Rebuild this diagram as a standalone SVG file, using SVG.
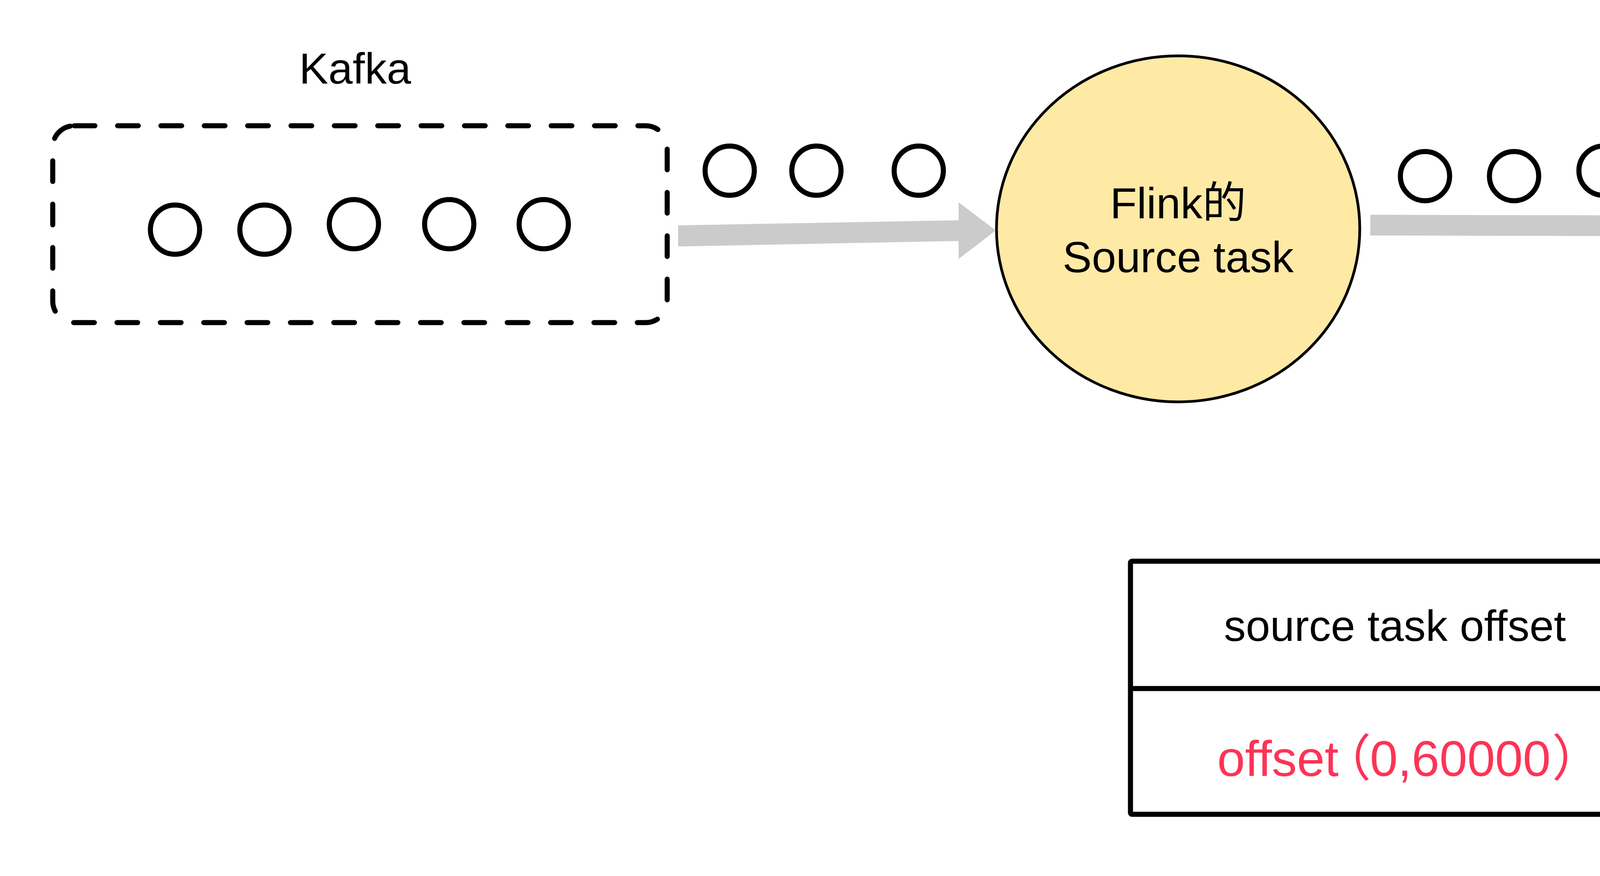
<svg xmlns="http://www.w3.org/2000/svg" width="5875" height="2243" viewBox="0 0 5875 2243">
<style>
.t{font-family:"Liberation Sans","Noto Sans CJK SC",sans-serif;font-size:112px;fill:#000}
.c{font-family:"Noto Sans CJK SC","Liberation Sans",sans-serif}
.dot{fill:#fff;stroke:#000;stroke-width:13}
.task{fill:#FEE9A5;stroke:#000;stroke-width:7}
.gray{fill:#CBCBCB}
.grid{fill:none;stroke:#000;stroke-width:13;stroke-linejoin:round}
</style>
<rect width="5875" height="2243" fill="#fff"/>
<g id="kafka">
<text class="t" x="909" y="214" text-anchor="middle">Kafka</text>
<rect x="135" y="322" width="1573" height="504" rx="55" fill="none" stroke="#000" stroke-width="13" stroke-dasharray="53 58" stroke-linecap="round"/>
<circle class="dot" cx="448" cy="588" r="63"/>
<circle class="dot" cx="677" cy="588" r="63"/>
<circle class="dot" cx="906" cy="574" r="63"/>
<circle class="dot" cx="1150" cy="574" r="63"/>
<circle class="dot" cx="1392" cy="574" r="63"/>
</g>
<g id="records1">
<circle class="dot" cx="1868" cy="437" r="63"/>
<circle class="dot" cx="2090" cy="437" r="63"/>
<circle class="dot" cx="2352" cy="437" r="63"/>
</g>
<g id="source-task">
<ellipse class="task" cx="3016" cy="586" rx="465" ry="443"/>
<text class="t" x="3016" y="559" text-anchor="middle">Flink的</text>
<text class="t" x="3016" y="697" text-anchor="middle">Source task</text>
</g>
<g id="records2">
<circle class="dot" cx="3648" cy="451" r="63"/>
<circle class="dot" cx="3876" cy="451" r="63"/>
<circle class="dot" cx="4105" cy="437" r="63"/>
<circle class="dot" cx="4348" cy="437" r="63"/>
<circle class="dot" cx="4591" cy="437" r="63"/>
</g>
<g id="pv-task">
<ellipse class="task" cx="5292" cy="586" rx="465" ry="443"/>
<text class="t" x="5291" y="544" text-anchor="middle">Flink 计算pv</text>
<text class="t" x="5293" y="697" text-anchor="middle">的 task</text>
</g>
<g id="barrier">
<rect x="4896" y="632" width="90" height="393" rx="5" fill="#fff" stroke="#FF0033" stroke-width="13"/>
<text class="t" x="4943" y="1225" text-anchor="middle" style="fill:#FB3A4E">CheckPoint barrier 100</text>
</g>
<g id="state-table">
<rect class="grid" x="2894" y="1437" width="2727" height="648" rx="4"/>
<line class="grid" x1="2894" y1="1763" x2="5621" y2="1763"/>
<line class="grid" x1="4257" y1="1437" x2="4257" y2="2085"/>
<text class="t" x="3571" y="1641" text-anchor="middle">source task offset</text>
<text class="t" x="4942" y="1641" text-anchor="middle">pv task</text>
<text class="t" style="fill:#FC3456;font-size:128px"><tspan x="3116" y="1987">offset</tspan><tspan class="c" x="3382" y="1987">（</tspan><tspan x="3507" y="1987">0,60000</tspan><tspan class="c" x="3973" y="1987">）</tspan></text>
<text class="t" style="fill:#FF1C1C;font-size:114px"><tspan x="4565" y="1893">pv</tspan><tspan class="c" x="4668" y="1893">：</tspan><tspan class="c" x="4724" y="1893">（</tspan><tspan x="4833" y="1893">app1,50000</tspan><tspan class="c" x="5427" y="1893">）</tspan></text>
<text class="t" style="fill:#FF1C1C;font-size:114px"><tspan class="c" x="4605" y="2046">（</tspan><tspan x="4718" y="2046">app2,10000</tspan><tspan class="c" x="5302" y="2046">）</tspan></text>
</g>
<g id="connectors">
<polygon class="gray" points="1736,577 2454,564 2454,518 2549,590 2454,663 2454,617 1736,631"/>
<polygon class="gray" points="3508,550 4731,553 4731,506 4823,580 4731,653 4731,606 3508,603"/>
<line x1="5625" y1="743" x2="5509" y2="1470" stroke="#FF0033" stroke-width="27" stroke-linecap="round"/>
<polygon points="5465,1459 5569,1477 5493,1607" fill="#FF0033"/>
</g>
</svg>
